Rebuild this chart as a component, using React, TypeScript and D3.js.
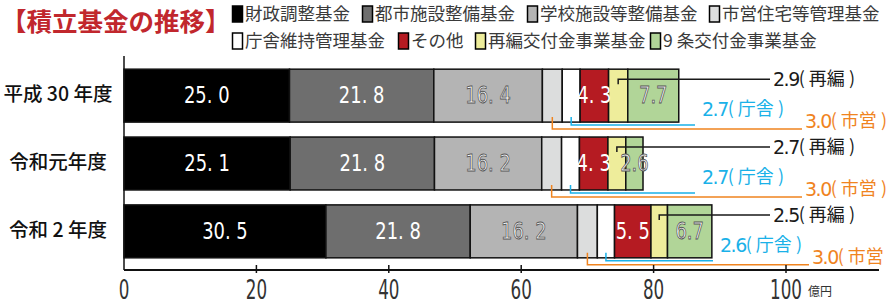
import React from 'react';
import * as d3 from 'd3';

// 積立基金の推移 (億円)
const years = ['平成 30 年度', '令和元年度', '令和 2 年度'];
const funds = [
  '財政調整基金',
  '都市施設整備基金',
  '学校施設等整備基金',
  '市営住宅等管理基金',
  '庁舎維持管理基金',
  'その他',
  '再編交付金事業基金',
  '9 条交付金事業基金',
];
const fundColors = ['#000000', '#6e6e6e', '#b4b4b4', '#dcdddd', '#ffffff', '#b51b22', '#eeed9b', '#b1d598'];
const values = [
  [25.0, 21.8, 16.4, 3.0, 2.7, 4.3, 2.9, 7.7],
  [25.1, 21.8, 16.2, 3.0, 2.7, 4.3, 2.7, 2.6],
  [30.5, 21.8, 16.2, 3.0, 2.6, 5.5, 2.5, 6.7],
];
const xTicks = [0, 20, 40, 60, 80, 100];
// segments labelled inside the bar
const insideLabels = [0, 1, 2, 5, 7];
// small segments with a callout: fund index, short name, colour
const callouts = [
  { fund: 6, name: '再編', color: '#1a1a1a' },
  { fund: 4, name: '庁舎', color: '#1ab1e8' },
  { fund: 3, name: '市営', color: '#f0841f' },
];

const W = 888;
const H = 306;
const numFont = '"DejaVu Sans", sans-serif';
const jpFont = '"Noto Sans CJK JP", sans-serif';

// legend layout (two rows)
const legendPos = [
  [232, 14], [362, 14], [527, 14], [709, 14],
  [232, 41], [398, 41], [475, 41], [650, 41],
];

// narrow digits: squeeze horizontally around the anchor point
function Narrow({ x, y, k = 0.72, children, ...rest }: any) {
  return (
    <text transform={`translate(${x},${y}) scale(${k},1)`} dominantBaseline="middle" {...rest}>
      {children}
    </text>
  );
}

export default function App() {
  const x = d3.scaleLinear().domain([0, 100]).range([124, 786]);
  const y = d3.scaleBand().domain(years).range([59, 268]).paddingInner(0.22).paddingOuter(0.15);
  const stack = d3.stack<number[]>().keys(funds.map((_, i) => String(i))).value((d, k) => d[+k]);
  const series = stack(values);
  const axisY = 270;

  // per-row horizontal text positions for the blue / orange callouts
  const blueX = [702, 702, 720];
  const orangeX = [805, 805, 812];

  const calloutText = (r: number, c: number) => (
    <>
      <tspan fontFamily={numFont} fontSize={19} letterSpacing={-1.5}>{values[r][callouts[c].fund].toFixed(1)}</tspan>
      {`(`}
      <tspan>{` ${callouts[c].name} `}</tspan>)
    </>
  );

  return (
    <svg width={W} height={H} style={{ position: 'absolute', left: 0, top: 0, background: '#fff' }}>
      <text x={1} y={24} fontFamily={jpFont} fontWeight={700} fontSize={25.5} fill="#c1272d" dominantBaseline="middle">
        【積立基金の推移】
      </text>

      {funds.map((f, i) => (
        <g key={f} transform={`translate(${legendPos[i][0]},${legendPos[i][1]})`}>
          <rect x={0.5} y={-8} width={10} height={16} fill={fundColors[i]} stroke="#000" strokeWidth={1.5} />
          <text x={13} y={1} fontFamily={jpFont} fontSize={17.5} fill="#3a3a3a" dominantBaseline="middle">
            {f}
          </text>
        </g>
      ))}

      {series.map((s, i) => (
        <g key={i} fill={fundColors[i]}>
          {s.map((d, r) => (
            <rect
              key={r}
              x={x(d[0])}
              y={y(years[r])}
              width={x(d[1]) - x(d[0])}
              height={y.bandwidth()}
              stroke="#111"
              strokeWidth={1.5}
            />
          ))}
        </g>
      ))}

      {insideLabels.map((i) =>
        series[i].map((d, r) => {
          const v = values[r][i];
          const light = i === 2 || i === 7;
          const txt = i === 7 ? v.toFixed(1) : v.toFixed(1).replace('.', '. ');
          return (
            <Narrow
              key={`${i}-${r}`}
              x={(x(d[0]) + x(d[1])) / 2}
              y={y(years[r])! + y.bandwidth() / 2 + 1}
              k={0.78}
              textAnchor="middle"
              fontFamily={numFont}
              fontSize={23}
              fill="#fff"
              stroke={light ? '#555' : 'none'}
              strokeWidth={light ? 0.9 : 0}
            >
              {txt}
            </Narrow>
          );
        })
      )}

      {years.map((yr, r) => {
        const top = y(yr)!;
        const bottom = top + y.bandwidth();
        const [ren, cho, shi] = callouts.map((c) => series[c.fund][r]);
        const renX = (x(ren[0]) + x(ren[1])) / 2;
        const choX = (x(cho[0]) + x(cho[1])) / 2;
        const shiX = (x(shi[0]) + x(shi[1])) / 2;
        const renY = top + 10;
        return (
          <g key={yr} fontFamily={jpFont} fontSize={18}>
            <path d={`M${renX},${renY + 5}V${renY}H770`} fill="none" stroke={callouts[0].color} strokeWidth={1.5} />
            <text x={773} y={renY + 1} dominantBaseline="middle" fill={callouts[0].color}>
              {calloutText(r, 0)}
            </text>

            <path d={`M${choX},${bottom - 5}V${bottom + 3}H${blueX[r] - 7}`} fill="none" stroke={callouts[1].color} strokeWidth={1.5} />
            <text x={blueX[r]} y={bottom - 12} dominantBaseline="middle" fill={callouts[1].color}>
              {calloutText(r, 1)}
            </text>

            <path d={`M${shiX},${bottom - 5}V${bottom + 7}H${orangeX[r] - 3}`} fill="none" stroke={callouts[2].color} strokeWidth={1.5} />
            <text x={orangeX[r]} y={bottom} dominantBaseline="middle" fill={callouts[2].color}>
              {calloutText(r, 2)}
            </text>
          </g>
        );
      })}

      {years.map((yr) => (
        <text
          key={yr}
          x={58}
          y={y(yr)! + y.bandwidth() / 2}
          textAnchor="middle"
          dominantBaseline="middle"
          fontFamily={jpFont}
          fontWeight={500}
          fontSize={19.5}
          fill="#111"
        >
          {yr}
        </text>
      ))}

      <line x1={x(0)} x2={x(0)} y1={56} y2={axisY} stroke="#111" strokeWidth={1.5} />
      <line x1={x(0)} x2={879} y1={axisY} y2={axisY} stroke="#111" strokeWidth={2} />
      {xTicks.map((t) => (
        <g key={t}>
          {t > 0 && <line x1={x(t)} x2={x(t)} y1={axisY - 5} y2={axisY + 3} stroke="#111" strokeWidth={1.5} />}
          <Narrow x={x(t)} y={291} k={0.62} textAnchor="middle" fontFamily={numFont} fontSize={27} fill="#333">
            {t}
          </Narrow>
        </g>
      ))}
      <text x={x(100) + 22} y={293} dominantBaseline="middle" fontFamily={jpFont} fontSize={12} fill="#333">
        億円
      </text>
    </svg>
  );
}
